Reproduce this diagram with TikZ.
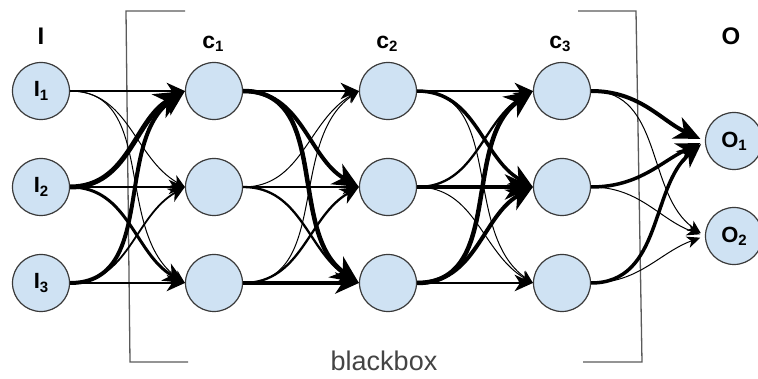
\documentclass[tikz,border=0pt]{standalone}
\usepackage{fontspec}
\setmainfont{Liberation Sans}
\usetikzlibrary{arrows.meta}

\definecolor{cellfill}{HTML}{CFE2F3}
\definecolor{celledge}{HTML}{3A3A3A}
\definecolor{boxline}{HTML}{5A5A5A}
\definecolor{boxtext}{HTML}{444444}

% label with a lowered index
\newcommand{\nlab}[3]{{\fontsize{#3}{#3}\selectfont\bfseries #1}\raisebox{-0.32em}{\fontsize{15}{15}\selectfont\bfseries #2}}

\begin{document}
\begin{tikzpicture}[x=1pt,y=-1pt,
  cell/.style={circle, draw=celledge, line width=1.2pt, fill=cellfill,
               minimum size=57pt, inner sep=0pt},
  link/.style={line width=#1pt, -{Stealth[length=9pt 4.2, width=8pt 3.8, inset=2.5pt 1.3]}},
  title/.style={inner sep=0pt, font=\bfseries\fontsize{24}{24}\selectfont}]
\useasboundingbox (0,0) rectangle (758,379);

% blackbox brackets
\draw[boxline, line width=1.3pt] (185,11) -- (126,11) -- (130,362) -- (188,362);
\draw[boxline, line width=1.3pt] (578,11) -- (636,11) -- (642,362) -- (583,362);
\node[inner sep=0pt, text=boxtext, font=\fontsize{27}{27}\selectfont] (bb) at (384,361) {blackbox};

% layer titles
\node[title] (tI) at (41,36) {I};
\node[inner sep=0pt] (tc1) at (213,44) {\nlab{c}{1}{23}};
\node[inner sep=0pt] (tc2) at (387,44) {\nlab{c}{2}{23}};
\node[inner sep=0pt] (tc3) at (560,44) {\nlab{c}{3}{23}};
\node[title] (tO) at (731,36) {O};

% cells
\node[cell] (i1) at (41,91)  {\nlab{I}{1}{22}};
\node[cell] (i2) at (41,187) {\nlab{I}{2}{22}};
\node[cell] (i3) at (41,283) {\nlab{I}{3}{22}};
\foreach \r/\y in {1/91,2/187,3/283}{
  \node[cell] (a\r) at (214,\y) {};
  \node[cell] (b\r) at (388,\y) {};
  \node[cell] (d\r) at (562,\y) {};
}
\node[cell] (o1) at (734,141) {\nlab{O}{1}{22}};
\node[cell] (o2) at (734,236) {\nlab{O}{2}{22}};

% weighted links: source / target / width / entry angle (page angles)
\foreach \s/\t/\w/\e in {
  i1/a1/2.2/180, i1/a2/1/150, i1/a3/1/145,
  i2/a1/5/210,   i2/a2/1.7/180, i2/a3/3/150,
  i3/a1/4/215,   i3/a2/1.8/210, i3/a3/2.2/180,
  a1/b1/2.2/180, a1/b2/4/150, a1/b3/4.5/145,
  a2/b1/1/210,   a2/b2/1.7/180, a2/b3/2.3/150,
  a3/b1/1/215,   a3/b2/2.3/210, a3/b3/3.5/180,
  b1/d1/2.2/180, b1/d2/3.5/150, b1/d3/1/145,
  b2/d1/2.3/210, b2/d2/4.5/180, b2/d3/1/150,
  b3/d1/4.5/215, b3/d2/4/210,   b3/d3/2.2/180}{
  \draw[link=\w] (\s.east) to[out=0,in=\e] (\t.west);
}
\foreach \s/\t/\w/\e in {
  d1/o1/4/155,  d2/o1/3.5/205, d3/o1/3.5/220,
  d1/o2/1/145,  d2/o2/1/160,   d3/o2/1/200}{
  \draw[link=\w, shorten >=5pt] (\s.east) to[out=0,in=\e] (\t.west);
}
\end{tikzpicture}
\end{document}
